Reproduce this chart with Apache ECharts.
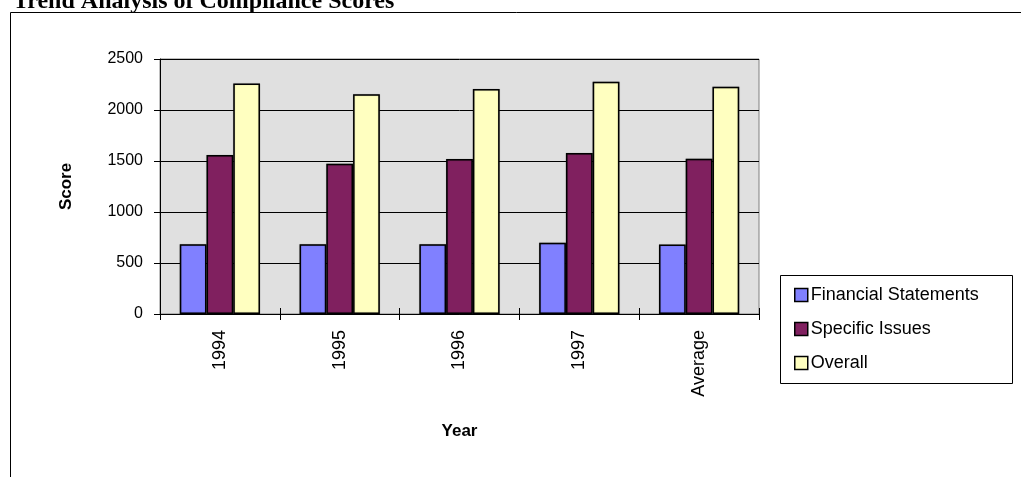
<!DOCTYPE html>
<html>
<head>
<meta charset="utf-8">
<script src="https://cdn.jsdelivr.net/npm/echarts@6/dist/echarts.min.js"></script>
<style>
  html, body { margin: 0; padding: 0; background: #fff; }
  #chart { width: 1021px; height: 477px; }
</style>
</head>
<body>
<div id="chart"></div>
<script>
// Compliance scores by year
const years = ['1994', '1995', '1996', '1997', 'Average'];
const financialStatements = [685, 685, 685, 698, 682];
const specificIssues = [1559, 1472, 1520, 1579, 1523];
const overall = [2261, 2154, 2206, 2277, 2228];
const seriesNames = ['Financial Statements', 'Specific Issues', 'Overall'];
const seriesColors = ['#8080FF', '#80205F', '#FFFFC0'];

const chart = echarts.init(document.getElementById('chart'));

const labelFont = 'Liberation Sans, Arial, sans-serif';

function barSeries(i, values) {
  return {
    name: seriesNames[i],
    type: 'bar',
    data: values,
    barGap: '0%',
    barCategoryGap: '33%',
    itemStyle: {
      color: seriesColors[i],
      borderColor: '#000',
      borderWidth: 1.5,
      shadowColor: 'rgba(0,0,0,0.35)',
      shadowBlur: 1
    },
    emphasis: { disabled: true }
  };
}

chart.setOption({
  animation: false,
  graphic: [
    {
      type: 'rect',
      shape: { x: 10.5, y: 12.5, width: 1100, height: 600 },
      style: { fill: 'none', stroke: '#000', lineWidth: 1 },
      silent: true
    },
    {
      type: 'text',
      left: 13,
      top: -10,
      style: {
        text: 'Trend Analysis of Compliance Scores',
        font: 'bold 24px "Liberation Serif", "Times New Roman", serif',
        fill: '#000'
      },
      silent: true
    },
    {
      type: 'rect',
      shape: { x: 780.5, y: 275.5, width: 232, height: 108 },
      style: { fill: '#fff', stroke: '#000', lineWidth: 1 },
      z: 1,
      silent: true
    }
  ],
  legend: {
    orient: 'vertical',
    left: 789,
    top: 281,
    itemWidth: 13,
    itemHeight: 13,
    itemGap: 16,
    icon: 'rect',
    selectedMode: false,
    itemStyle: { borderColor: '#000', borderWidth: 1.5 },
    textStyle: { fontFamily: labelFont, fontSize: 18, color: '#000', padding: [0, 0, 0, -2] },
    data: seriesNames
  },
  grid: {
    left: 160,
    top: 59,
    right: 262,
    bottom: 163,
    show: true,
    backgroundColor: '#E0E0E0',
    borderColor: '#808080',
    borderWidth: 1
  },
  xAxis: [
    {
      type: 'category',
      data: years,
      name: 'Year',
      nameLocation: 'middle',
      nameGap: 109,
      nameTextStyle: { fontFamily: labelFont, fontSize: 17, fontWeight: 'bold', color: '#000' },
      axisLine: { lineStyle: { color: '#000', width: 1 } },
      axisTick: { show: true, length: 6, lineStyle: { color: '#000' } },
      axisLabel: {
        rotate: 90,
        margin: 16,
        fontFamily: labelFont,
        fontSize: 18,
        color: '#000'
      },
      splitLine: { show: false }
    },
    {
      // inner half of the category tick marks
      type: 'category',
      data: years,
      position: 'bottom',
      gridIndex: 0,
      axisLine: { show: false },
      axisTick: { show: true, inside: true, length: 6, lineStyle: { color: '#000' } },
      axisLabel: { show: false },
      splitLine: { show: false }
    }
  ],
  yAxis: {
    type: 'value',
    min: 0,
    max: 2500,
    interval: 500,
    name: 'Score',
    nameLocation: 'middle',
    nameGap: 85,
    nameRotate: 90,
    nameTextStyle: { fontFamily: labelFont, fontSize: 17, fontWeight: 'bold', color: '#000' },
    axisLine: { show: true, lineStyle: { color: '#000', width: 1 } },
    axisTick: { show: true, length: 6, lineStyle: { color: '#000' } },
    axisLabel: {
      fontFamily: labelFont,
      fontSize: 16,
      color: '#000',
      margin: 17,
      formatter: (v) => String(v)
    },
    splitLine: { show: true, lineStyle: { color: '#000', width: 1 } }
  },
  series: [
    barSeries(0, financialStatements),
    barSeries(1, specificIssues),
    barSeries(2, overall)
  ]
});
</script>
</body>
</html>
